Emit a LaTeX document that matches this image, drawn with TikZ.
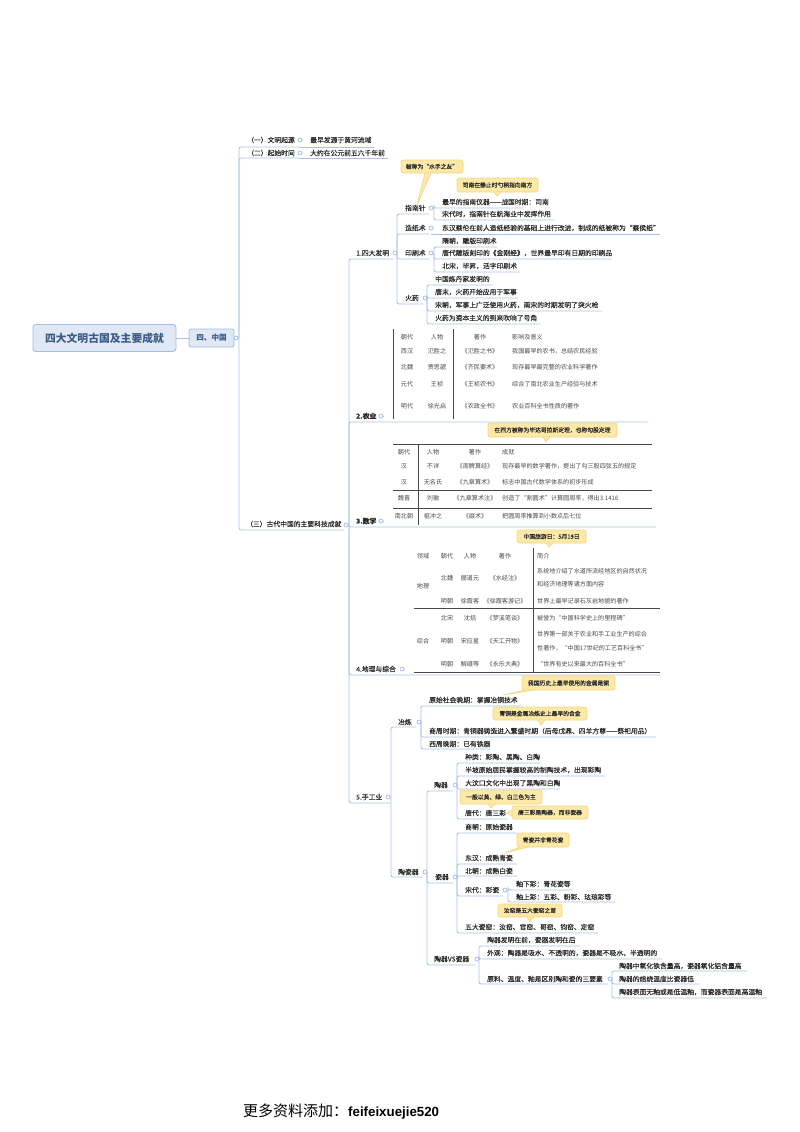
\documentclass[tikz,border=0pt]{standalone}
\usepackage{fontspec}
\setmainfont{Noto Sans CJK SC}
\newfontfamily\liber{Liberation Sans}
\newfontfamily\medf[FakeBold=0.25]{Noto Sans CJK SC}
\definecolor{lnblue}{HTML}{A8C3E8}
\definecolor{txt}{HTML}{2A2A2A}
\definecolor{tbl}{HTML}{484848}
\definecolor{cfill}{HTML}{FCE9A8}
\definecolor{cedge}{HTML}{F3D77E}
\definecolor{rootfill}{HTML}{DFE8F4}
\definecolor{rootedge}{HTML}{A3BEE2}
\definecolor{roottxt}{HTML}{3E5C88}
\tikzset{
  ln/.style={draw=lnblue,line width=0.9bp,rounded corners=2bp},
  tp/.style={anchor=west,inner sep=0pt,text=txt,font=\medf\fontsize{6.8bp}{8bp}\selectfont},
  hubn/.style={circle,draw=lnblue,fill=white,line width=0.8bp,inner sep=0pt,minimum size=4bp},
  callbox/.style={rectangle,rounded corners=2bp,fill=cfill,draw=cedge,line width=0.6bp,inner sep=0pt,text=txt,font=\medf\fontsize{5.8bp}{7bp}\selectfont},
  tcell/.style={inner sep=0pt,text=tbl,font=\fontsize{6.1bp}{7bp}\selectfont},
  tleft/.style={tcell,anchor=west},
  tline/.style={draw=tbl,line width=0.9bp},
}
\newcommand{\hub}[4]{\coordinate (s-#1) at (#4,#3);\node[hubn] (c-#1) at (#2,#3) {};\draw[ln] (c-#1.east) -- (s-#1);}
\newcommand{\kid}[7]{\node[tp] (#2) at (#3,#4) {#7};\coordinate (#2-u) at (#6,#5);\draw[ln] (s-#1 |- c-#1) -- (s-#1 |- #2-u) -- (#2-u);}
\newcommand{\leaf}[7]{\node[tp] (#2) at (#3,#4) {#7};\coordinate (#2-u) at (#6,#5);\draw[ln] (c-#1 |- #2-u) -- (#2-u);}
% name, x1,y1,x2,y2, text
\newcommand{\callnode}[6]{\node[callbox,minimum width={(#4-#2)*1bp},minimum height={(#5-#3)*1bp}] (#1) at ({(#2+#4)/2},{(#3+#5)/2}) {#6};}
% name, tip, base1, base2
\newcommand{\tailto}[4]{\coordinate (#1-tip) at (#2);\fill[cfill] (#3) -- (#1-tip) -- (#4) -- cycle;\draw[cedge,line width=0.6bp,line join=round] (#3) -- (#1-tip) -- (#4);}
\newcommand{\tc}[4]{\node[tcell] (#1) at (#2,#3) {#4};}
\newcommand{\tl}[4]{\node[tleft] (#1) at (#2,#3) {#4};}
\begin{document}
\begin{tikzpicture}[x=1bp,y=-1bp]
\useasboundingbox (0,0) rectangle (800,1132);
% root
\node[rectangle,rounded corners=3bp,fill=rootfill,draw=rootedge,line width=0.9bp,minimum width=143bp,minimum height=27bp,inner sep=0pt,text=roottxt,font=\bfseries\fontsize{10.8bp}{12bp}\selectfont] (root) at (104.5,338) {四大文明古国及主要成就};
\node[rectangle,rounded corners=2bp,fill=rootfill,draw=rootedge,line width=0.8bp,minimum width=45bp,minimum height=18bp,inner sep=0pt,text=roottxt,font=\bfseries\fontsize{7.6bp}{9bp}\selectfont] (cn) at (211.5,338) {四、中国};
\draw[ln] (root) -- (cn);
\hub{cn}{236}{338}{239}
\draw[ln] (cn.east) -- (c-cn.west);
% level 1
\kid{cn}{k1}{247}{140}{147}{300}{（一）文明起源}
\kid{cn}{k2}{247}{153}{158}{300}{（二）起始时间}
\kid{cn}{k3}{246}{524}{530}{344}{（三）古代中国的主要科技成就}
\hub{k1}{300}{140}{302}
\leaf{k1}{k1a}{310}{140}{147}{374}{最早发源于黄河流域}
\hub{k2}{300}{153}{302}
\leaf{k2}{k2a}{310}{153}{158}{388}{大约在公元前五六千年前}
% level 2
\hub{k3}{346}{525}{349}
\kid{k3}{fm}{356}{253}{259}{393}{1.四大发明}
\kid{k3}{ny}{356}{416}{422}{648}{\bfseries 2.农业}
\kid{k3}{sx}{356}{521}{527}{656}{\bfseries 3.数学}
\kid{k3}{dl}{356}{669}{675}{660}{4.地理与综合}
\kid{k3}{sg}{356}{797}{803}{391}{5.手工业}
\hub{ny}{381}{416}{383}
\hub{sx}{381}{521}{383}
\hub{dl}{402}{669}{404}
% four inventions
\hub{fm}{395}{253}{397}
\kid{fm}{zn}{405}{208}{214}{429}{指南针}
\kid{fm}{zz}{405}{228}{234}{429}{造纸术}
\kid{fm}{ys}{405}{253}{259}{429}{印刷术}
\kid{fm}{hy}{405}{298}{304}{423}{火药}
\hub{zn}{431}{208}{434}
\kid{zn}{zn1}{442}{202}{208}{524}{最早的指南仪器——战国时期：司南}
\kid{zn}{zn2}{442}{214}{220}{554}{宋代时，指南针在航海业中发挥作用}
\hub{zz}{431}{228}{433}
\leaf{zz}{zz1}{442}{228}{234}{660}{东汉蔡伦在前人造纸经验的基础上进行改进，制成的纸被称为“蔡侯纸”}
\hub{ys}{431}{253}{434}
\kid{ys}{ys1}{442}{241}{247}{497}{隋朝，雕版印刷术}
\kid{ys}{ys2}{442}{253}{259}{612}{唐代雕版刻印的《金刚经》，世界最早印有日期的印刷品}
\kid{ys}{ys3}{442}{266}{272}{520}{北宋，毕昇，活字印刷术}
\hub{hy}{425}{298}{427}
\kid{hy}{hy1}{435}{279}{285}{492}{中国炼丹家发明的}
\kid{hy}{hy2}{435}{292}{298}{518}{唐末，火药开始应用于军事}
\kid{hy}{hy3}{435}{305}{311}{602}{宋朝，军事上广泛使用火药，南宋的时期发明了突火枪}
\kid{hy}{hy4}{435}{318}{324}{540}{火药为资本主义的到来吹响了号角}
% callouts top
\callnode{cb1}{401}{160}{463}{173}{被称为“水手之友”}
\tailto{cb1}{417,205}{425,173}{431,173}
\callnode{cb2}{457}{178}{538}{192}{司南在静止时勺柄指向南方}
\tailto{cb2}{497,196}{494,192}{501,192}
% agriculture table
\draw[tline] (393,329) -- (393,419);
\draw[tline] (453,329) -- (453,419);
\tc{a11}{407}{337}{朝代}\tc{a12}{437}{337}{人物}\tc{a13}{480}{337}{著作}\tl{a14}{512}{337}{影响及意义}
\tc{a21}{407}{351}{西汉}\tc{a22}{437}{351}{氾胜之}\tc{a23}{480}{351}{《氾胜之书》}\tl{a24}{512}{351}{我国最早的农书，总结农民经验}
\tc{a31}{407}{367}{北魏}\tc{a32}{437}{367}{贾思勰}\tc{a33}{480}{367}{《齐民要术》}\tl{a34}{512}{367}{现存最早最完整的农业科学著作}
\tc{a41}{407}{384}{元代}\tc{a42}{437}{384}{王祯}\tc{a43}{480}{384}{《王祯农书》}\tl{a44}{512}{384}{综合了南北农业生产经验与技术}
\tc{a51}{407}{406}{明代}\tc{a52}{437}{406}{徐光启}\tc{a53}{480}{406}{《农政全书》}\tl{a54}{512}{406}{农业百科全书性质的著作}
% math
\callnode{cb3}{488}{423}{617}{437}{在西方被称为毕达哥拉斯定理，也称勾股定理}
\tailto{cb3}{546,442}{543,437}{550,437}
\draw[tline] (393,444) -- (652,444);
\draw[tline] (393,490) -- (652,490);
\draw[tline] (393,508) -- (652,508);
\draw[tline] (418,444) -- (418,525);
\tc{m11}{404}{452}{朝代}\tc{m12}{433}{452}{人物}\tc{m13}{475}{452}{著作}\tl{m14}{502}{452}{成就}
\tc{m21}{404}{466}{汉}\tc{m22}{433}{466}{不详}\tc{m23}{475}{466}{《周髀算经》}\tl{m24}{502}{466}{现存最早的数学著作，提出了勾三股四弦五的规定}
\tc{m31}{404}{482}{汉}\tc{m32}{433}{482}{无名氏}\tc{m33}{475}{482}{《九章算术》}\tl{m34}{502}{482}{标志中国古代数学体系的初步形成}
\tc{m41}{404}{498}{魏晋}\tc{m42}{433}{498}{刘徽}\tc{m43}{475}{498}{《九章算术注》}\tl{m44}{502}{498}{创造了“割圆术”计算圆周率，得出3.1416}
\tc{m51}{404}{516}{南北朝}\tc{m52}{433}{516}{祖冲之}\tc{m53}{475}{516}{《缀术》}\tl{m54}{502}{516}{把圆周率推算到小数点后七位}
% geography
\callnode{cb4}{517}{530}{586}{543}{中国旅游日：5月19日}
\tailto{cb4}{549,547}{546,543}{553,543}
\draw[tline] (533,548) -- (533,673);
\draw[tline] (414,608) -- (660,608);
\draw[tline] (414,672.5) -- (660,672.5);
\tc{g11}{423}{556}{领域}\tc{g12}{447}{556}{朝代}\tc{g13}{470}{556}{人物}\tc{g14}{505}{556}{著作}\tl{g15}{537}{556}{简介}
\tc{g21}{423}{586}{地理}\tc{g22}{447}{578}{北魏}\tc{g23}{470}{578}{郦道元}\tc{g24}{505}{578}{《水经注》}
\tl{g25}{537}{571}{系统地介绍了水道所流经地区的自然状况}\tl{g26}{537}{584}{和经济地理等诸方面内容}
\tc{g32}{447}{601}{明朝}\tc{g33}{470}{601}{徐霞客}\tc{g34}{505}{601}{《徐霞客游记》}\tl{g35}{537}{601}{世界上最早记录石灰岩地貌的著作}
\tc{g42}{447}{618}{北宋}\tc{g43}{470}{618}{沈括}\tc{g44}{505}{618}{《梦溪笔谈》}\tl{g45}{537}{618}{被誉为“中国科学史上的里程碑”}
\tc{g51}{423}{641}{综合}\tc{g52}{447}{641}{明朝}\tc{g53}{470}{641}{宋应星}\tc{g54}{505}{641}{《天工开物》}
\tl{g55}{537}{634}{世界第一部关于农业和手工业生产的综合}\tl{g56}{537}{648}{性著作，“中国17世纪的工艺百科全书”}
\tc{g62}{447}{664}{明朝}\tc{g63}{470}{664}{解缙等}\tc{g64}{505}{664}{《永乐大典》}\tl{g65}{537}{664}{“世界有史以来最大的百科全书”}
% handicraft
\hub{sg}{388}{797}{391}
\kid{sg}{yl}{398}{722}{727}{416}{冶炼}
\kid{sg}{tc}{398}{872}{877}{423}{陶瓷器}
\hub{yl}{419}{722}{421}
\kid{yl}{yl1}{429}{700}{706}{521}{原始社会晚期：掌握冶铜技术}
\kid{yl}{yl2}{429}{731}{737}{656}{商周时期：青铜器铸造进入繁盛时期（后母戊鼎、四羊方尊——祭祀用品）}
\kid{yl}{yl3}{429}{744}{749}{490}{西周晚期：已有铁器}
\callnode{cb5}{522}{676}{615}{690}{我国历史上最早使用的金属是铜}
\tailto{cb5}{503,695}{526,690}{534,690}
\callnode{cb6}{493}{707}{587}{720}{青铜是金属冶炼史上最早的合金}
\tailto{cb6}{541,725}{538,720}{545,720}
\hub{tc}{425}{872}{427}
\kid{tc}{tq}{434}{785}{791}{453}{陶器}
\kid{tc}{cq}{435}{877}{883}{453}{瓷器}
\kid{tc}{vs}{434}{959}{965}{475}{陶器VS瓷器}
\hub{tq}{455}{785}{457}
\kid{tq}{tq1}{465}{757}{763}{540}{种类：彩陶、黑陶、白陶}
\kid{tq}{tq2}{465}{770}{776}{605}{半坡原始居民掌握较高的制陶技术，出现彩陶}
\kid{tq}{tq3}{465}{783}{789}{560}{大汶口文化中出现了黑陶和白陶}
\kid{tq}{tq4}{465}{813}{819}{507}{唐代：唐三彩}
\callnode{cb7}{460}{790}{542}{804}{一般以黄、绿、白三色为主}
\tailto{cb7}{491,808}{488,804}{495,804}
\callnode{cb8}{512}{806}{588}{819}{唐三彩是陶器，而非瓷器}
\tailto{cb8}{507,813}{512,810}{512,816}
\hub{cq}{455}{877}{457}
\kid{cq}{cq1}{465}{827}{833}{517}{商朝：原始瓷器}
\kid{cq}{cq2}{465}{858}{864}{517}{东汉：成熟青瓷}
\kid{cq}{cq3}{465}{871}{876}{517}{北朝：成熟白瓷}
\kid{cq}{cq4}{465}{890}{896}{503}{宋代：彩瓷}
\kid{cq}{cq5}{465}{927}{933}{598}{五大瓷窑：汝窑、官窑、哥窑、钧窑、定窑}
\callnode{cb9}{517}{833}{569}{847}{青瓷并非青花瓷}
\tailto{cb9}{505,853}{520,847}{528,847}
\callnode{cb10}{498}{904}{562}{917}{汝窑是五大瓷窑之首}
\tailto{cb10}{530,922}{527,917}{534,917}
\hub{cq4}{505}{890}{508}
\kid{cq4}{sd1}{516}{884}{890}{572}{釉下彩：青花瓷等}
\kid{cq4}{sd2}{516}{897}{902}{615}{釉上彩：五彩、粉彩、珐琅彩等}
\hub{vs}{477}{959}{479}
\kid{vs}{vs1}{487}{940}{946}{580}{陶器发明在前，瓷器发明在后}
\kid{vs}{vs2}{487}{953}{959}{662}{外观：陶器是吸水、不透明的，瓷器是不吸水、半透明的}
\kid{vs}{vs3}{487}{979}{984}{608}{原料、温度、釉是区别陶和瓷的三要素}
\hub{vs3}{610}{979}{612}
\kid{vs3}{vt1}{619}{966}{971}{747}{陶器中氧化铁含量高，瓷器氧化铝含量高}
\kid{vs3}{vt2}{619}{979}{984}{700}{陶器的焙烧温度比瓷器低}
\kid{vs3}{vt3}{619}{992}{998}{767}{陶器表面无釉或是低温釉，而瓷器表面是高温釉}
% footer
\node[anchor=west,inner sep=0pt,text=black,font=\fontsize{15bp}{17bp}\selectfont] (foot) at (243,1112) {更多资料添加：{\liber\bfseries\fontsize{13.3bp}{16bp}\selectfont feifeixuejie520}};
\end{tikzpicture}
\end{document}
